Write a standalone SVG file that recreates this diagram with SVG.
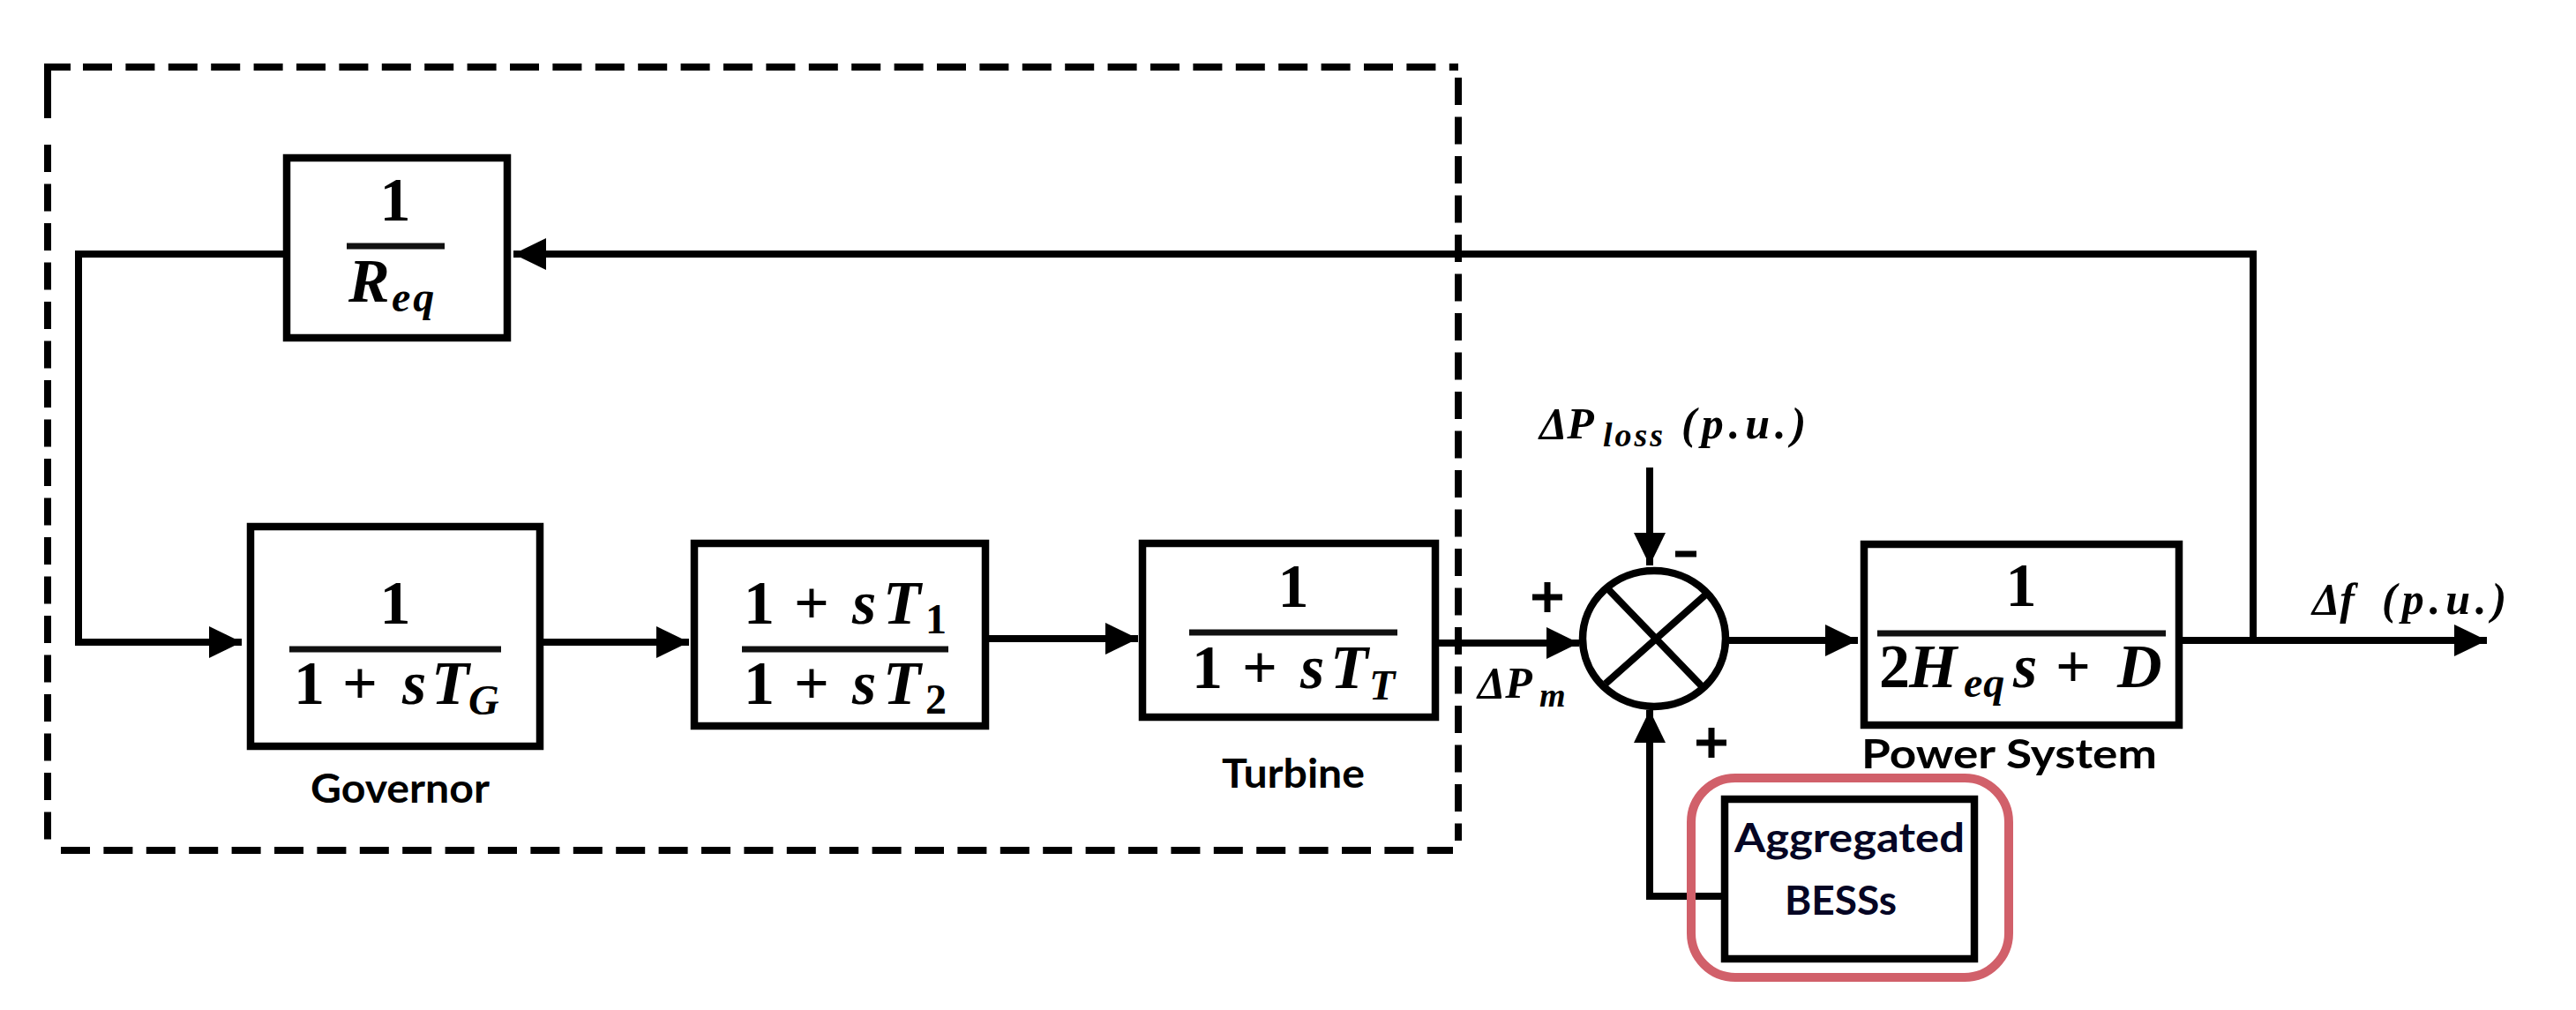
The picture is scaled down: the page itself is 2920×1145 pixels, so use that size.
<svg xmlns="http://www.w3.org/2000/svg" width="2920" height="1145" viewBox="0 0 2920 1145">
<style>
.box{fill:#fff;stroke:#000;stroke-width:8.5}
.bar{stroke:#111;stroke-width:7;fill:none}
.line{stroke:#000;stroke-width:8;fill:none}
.dash{stroke:#000;stroke-width:8;fill:none}
.m{font-family:"Liberation Serif",serif;font-weight:700;font-size:70px;fill:#000}
.i{font-style:italic}
.sub{font-size:48px}
.lab{font-family:"Liberation Serif",serif;font-weight:700;font-size:50px;fill:#000}
.lsub{font-size:38px}
.cap{font-family:Lato,sans-serif;font-weight:700;font-size:45px;fill:#000}
.sign{stroke:#000;stroke-width:7;fill:none}
</style>
<defs>
<marker id="ah" markerUnits="userSpaceOnUse" markerWidth="38" markerHeight="36" refX="37" refY="18" orient="auto"><path d="M0 0L37 18L0 36Z" fill="#000"/></marker>
</defs>
<rect width="2920" height="1145" fill="#fff"/>
<g id="boundary">
<path class="dash" d="M54 134V76H80"/>
<path class="dash" stroke-dasharray="33 15.4" d="M94 76H1653"/>
<path class="dash" stroke-dasharray="31 13.5" d="M1653 88V953"/>
<path class="dash" stroke-dasharray="33 15.4" d="M69 964H1647"/>
<path class="dash" stroke-dasharray="31 13.5" d="M54 164V964"/>
</g>
<g id="connectors">
<path class="line" d="M323 288H89V728H274" marker-end="url(#ah)"/>
<path class="line" d="M615 728H781" marker-end="url(#ah)"/>
<path class="line" d="M1121 724H1290" marker-end="url(#ah)"/>
<path class="line" d="M1631 729H1790" marker-end="url(#ah)"/>
<path class="line" d="M1870 530V641" marker-end="url(#ah)"/>
<path class="line" d="M1951 1016H1870V805" marker-end="url(#ah)"/>
<path class="line" d="M1960 726H2106" marker-end="url(#ah)"/>
<path class="line" d="M2474 726H2819" marker-end="url(#ah)"/>
<path class="line" d="M2554 726V288H582" marker-end="url(#ah)"/>
</g>
<g id="feedback">
<rect class="box" x="325" y="179" width="250" height="204"/>
<path class="bar" d="M393 279H504"/>
<text class="m" x="448" y="250" text-anchor="middle">1</text>
<text class="m i" y="342"><tspan x="395">R</tspan><tspan class="sub" x="444" dy="11" letter-spacing="3">eq</tspan></text>
</g>
<g id="governor">
<rect class="box" x="284" y="597" width="328" height="249"/>
<path class="bar" d="M328 736H568"/>
<text class="m" x="448" y="707" text-anchor="middle">1</text>
<text class="m" y="798"><tspan x="333">1 </tspan><tspan x="388">+ </tspan><tspan class="i" x="456">s</tspan><tspan class="i" x="489">T</tspan><tspan class="i sub" x="531" dy="12">G</tspan></text>
<text class="cap" x="352" y="910" textLength="203" lengthAdjust="spacingAndGlyphs">Governor</text>
</g>
<g id="lead-lag">
<rect class="box" x="787" y="616" width="330" height="207"/>
<path class="bar" d="M841 736H1075"/>
<text class="m" y="707"><tspan x="843">1 </tspan><tspan x="900">+ </tspan><tspan class="i" x="966">s</tspan><tspan class="i" x="1001">T</tspan><tspan class="sub" x="1049" dy="11">1</tspan></text>
<text class="m" y="798"><tspan x="843">1 </tspan><tspan x="900">+ </tspan><tspan class="i" x="966">s</tspan><tspan class="i" x="1001">T</tspan><tspan class="sub" x="1049" dy="11">2</tspan></text>
</g>
<g id="turbine">
<rect class="box" x="1295" y="616" width="332" height="197"/>
<path class="bar" d="M1348 717H1584"/>
<text class="m" x="1466" y="688" text-anchor="middle">1</text>
<text class="m" y="780"><tspan x="1351">1 </tspan><tspan x="1408">+ </tspan><tspan class="i" x="1474">s</tspan><tspan class="i" x="1508">T</tspan><tspan class="i sub" x="1552" dy="13">T</tspan></text>
<text class="cap" x="1385" y="893" textLength="162" lengthAdjust="spacingAndGlyphs">Turbine</text>
</g>
<g id="summing-junction">
<ellipse class="box" cx="1875" cy="724" rx="81" ry="77"/>
<path class="line" stroke-width="7" d="M1823 668L1931 780M1937 671L1820 775"/>
<path class="sign" d="M1737 677H1771M1754 660V694"/>
<path class="sign" stroke-width="9" d="M1899 628H1923"/>
<path class="sign" d="M1923 842H1957M1940 825V859"/>
<text class="lab i" y="791"><tspan x="1675">ΔP</tspan><tspan class="lsub" x="1745" dy="10">m</tspan></text>
<text class="lab i" y="497"><tspan x="1745">ΔP</tspan><tspan class="lsub" x="1817" dy="9" letter-spacing="3">loss</tspan><tspan x="1906" dy="-9" letter-spacing="6">(p.u.)</tspan></text>
</g>
<g id="power-system">
<rect class="box" x="2113" y="617" width="357" height="205"/>
<path class="bar" d="M2128 718H2455"/>
<text class="m" x="2291" y="687" text-anchor="middle">1</text>
<text class="m" y="779"><tspan x="2130">2</tspan><tspan class="i" x="2164">H</tspan><tspan class="i sub" x="2226" dy="11" letter-spacing="1">eq</tspan><tspan class="i" x="2282" dy="-11">s </tspan><tspan x="2330">+ </tspan><tspan class="i" x="2400">D</tspan></text>
<text class="cap" x="2110" y="871" textLength="335" lengthAdjust="spacingAndGlyphs">Power System</text>
<text class="lab i" y="696"><tspan x="2621">Δf</tspan><tspan x="2700" letter-spacing="6">(p.u.)</tspan></text>
</g>
<g id="bess">
<rect class="box" x="1955" y="906" width="283" height="181"/>
<text class="cap" x="1966" y="966" textLength="261" lengthAdjust="spacingAndGlyphs" style="fill:#050524">Aggregated</text>
<text class="cap" x="2023" y="1037" textLength="127" lengthAdjust="spacingAndGlyphs" style="fill:#050524">BESSs</text>
<rect x="1917" y="882" width="360" height="226" rx="50" fill="none" stroke="#d1606a" stroke-width="10"/>
</g>
</svg>
